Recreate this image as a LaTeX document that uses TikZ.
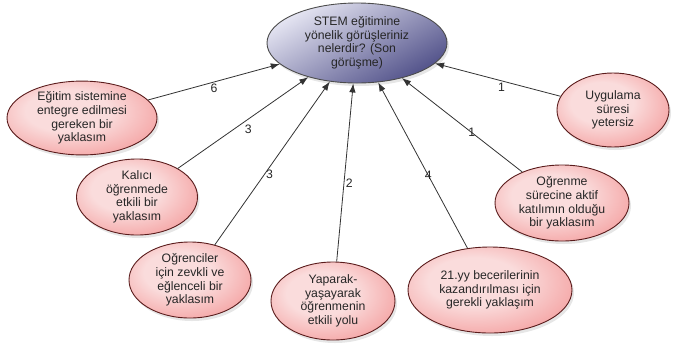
\documentclass[tikz,border=0pt]{standalone}
\usepackage{fontspec}
\setmainfont{Liberation Sans}
\usetikzlibrary{arrows.meta,shapes.geometric,shadows}

\definecolor{rosa}{HTML}{FADCDC}
\definecolor{rot}{HTML}{EE6666}
\definecolor{rand}{HTML}{5A1C1C}
\definecolor{lila}{HTML}{E6E6F3}
\definecolor{blau}{HTML}{52528A}

\pgfdeclareradialshading{rosablase}{\pgfpoint{-6bp}{6bp}}{color(0bp)=(rosa);
	color(14bp)=(rosa); color(52bp)=(rot); color(75bp)=(rot)}

\begin{document}
\begin{tikzpicture}[x=1bp,y=-1bp,>={Latex[length=9bp,width=6.5bp]},
	blase/.style={ellipse,draw=rand,line width=0.9bp,inner sep=0pt,align=center,
		font=\fontsize{12.3}{13.6}\selectfont,text=black!85,
		drop shadow={shadow xshift=2bp,shadow yshift=-3bp,opacity=0.2}},
	satellit/.style={blase,shading=rosablase},
	zahl/.style={font=\fontsize{12.3}{13}\selectfont,text=black!85,inner sep=1.5bp},
	pfeil/.style={->,draw=black!80,line width=0.8bp}]

\useasboundingbox (0,0) rectangle (673,345);

% Frage in der Mitte
\node[blase,draw=black!70,top color=lila,bottom color=blau,shading angle=30,
	minimum width=180bp,minimum height=80bp] (frage) at (357,43)
	{STEM eğitimine\\yönelik görüşleriniz\\nelerdir? (Son\\görüşme)};

% Antworten
\node[satellit,minimum width=150bp,minimum height=72bp] (egitim) at (82,118)
	{Eğitim sistemine\\entegre edilmesi\\gereken bir\\yaklasım};
\node[satellit,minimum width=121bp,minimum height=76bp] (kalici) at (137,197)
	{Kalıcı\\öğrenmede\\etkili bir\\yaklasım};
\node[satellit,minimum width=122bp,minimum height=76bp] (ogrenci) at (190,280)
	{Oğrenciler\\için zevkli ve\\eğlenceli bir\\yaklasım};
\node[satellit,minimum width=124bp,minimum height=78bp] (yaparak) at (333,301)
	{Yaparak-\\yaşayarak\\öğrenmenin\\etkili yolu};
\node[satellit,minimum width=164bp,minimum height=86bp] (beceri) at (490,290)
	{21.yy becerilerinin\\kazandırılması için\\gerekli yaklaşım};
\node[satellit,minimum width=134bp,minimum height=76bp] (aktif) at (562,203)
	{Oğrenme\\sürecine aktif\\katılımın olduğu\\bir yaklasım};
\node[satellit,minimum width=112bp,minimum height=74bp] (sure) at (613,110)
	{Uygulama\\süresi\\yetersiz};

% Pfeile mit Anzahl
\draw[pfeil] (egitim) -- node[zahl,midway,below] {6} (frage);
\draw[pfeil] (kalici) -- node[zahl,midway,below right] {3} (frage);
\draw[pfeil] (ogrenci) -- node[zahl,pos=0.43,right] {3} (frage);
\draw[pfeil] (yaparak) -- node[zahl,pos=0.44,right] {2} (frage);
\draw[pfeil] (beceri) -- node[zahl,pos=0.44] {4} (frage);
\draw[pfeil] (aktif) -- node[zahl,pos=0.42] {1} (frage);
\draw[pfeil] (sure) -- node[zahl,pos=0.47,below] {1} (frage);

\end{tikzpicture}
\end{document}
